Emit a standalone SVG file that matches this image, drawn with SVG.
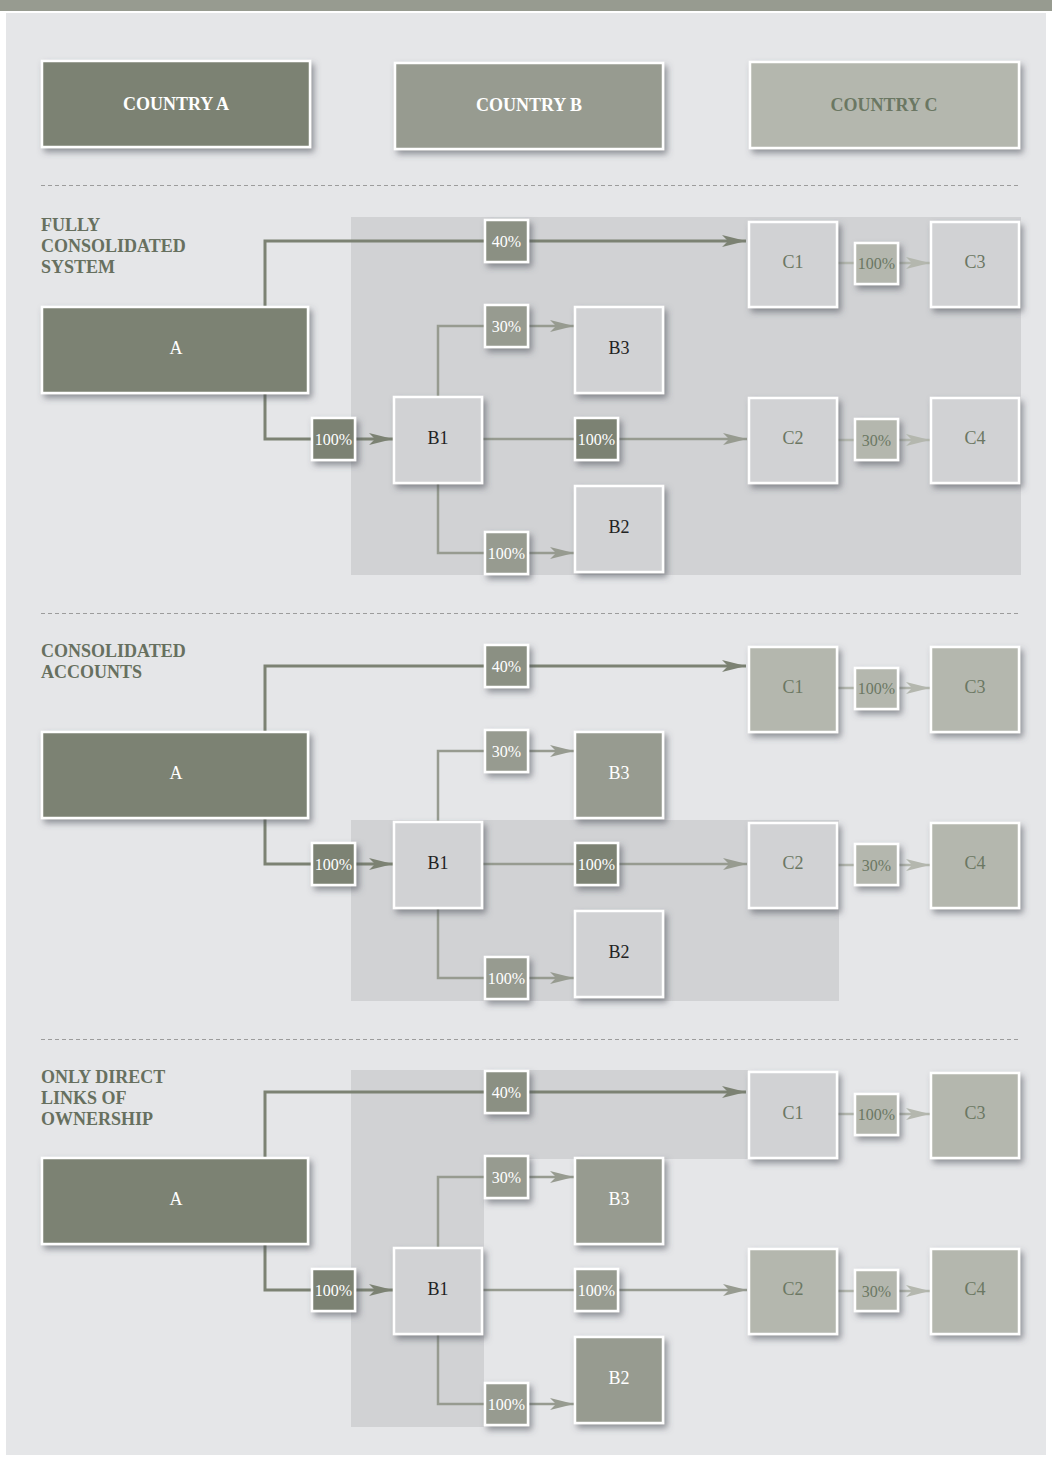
<svg xmlns="http://www.w3.org/2000/svg" width="1052" height="1461" viewBox="0 0 1052 1461">
  <style>
    .box { stroke: #ffffff; stroke-width: 2.5; filter: url(#sh); }
    .dk { fill: #7c8273; }
    .md { fill: #979b90; }
    .p4 { fill: #8b9083; }
    .lt { fill: #b4b7ae; }
    .zn { fill: #d1d2d4; }
    .zone { fill: #d1d2d4; }
    text { font-family: "Liberation Serif", "Times New Roman", serif; text-anchor: middle; }
    .lbl { font-size: 18px; }
    .pct { font-size: 16px; }
    .w { fill: #ffffff; }
    .k { fill: #222222; }
    .g { fill: #6b7763; }
    .hd { font-size: 18px; font-weight: bold; }
    .title { font-size: 18px; font-weight: bold; fill: #67705f; text-anchor: start; }
    .la { stroke: #7c8273; stroke-width: 3; fill: none; }
    .lb { stroke: #979b90; stroke-width: 2.5; fill: none; }
    .lc { stroke: #b4b7ae; stroke-width: 2.5; fill: none; }
    .dash { stroke: #9c9c9c; stroke-width: 1; stroke-dasharray: 4 3; }
  </style>
  <defs>
    <filter id="sh" x="-20%" y="-20%" width="150%" height="150%">
      <feDropShadow dx="3" dy="4" stdDeviation="3" flood-color="#4a4d55" flood-opacity="0.55"/>
    </filter>
    <marker id="arrA" markerUnits="userSpaceOnUse" markerWidth="24" markerHeight="12" refX="24" refY="6" orient="auto">
      <path d="M0,0 L24,6 L0,12 L6,6 Z" fill="#7c8273"/>
    </marker>
    <marker id="arrB" markerUnits="userSpaceOnUse" markerWidth="24" markerHeight="12" refX="24" refY="6" orient="auto">
      <path d="M0,0 L24,6 L0,12 L6,6 Z" fill="#979b90"/>
    </marker>
    <marker id="arrC" markerUnits="userSpaceOnUse" markerWidth="24" markerHeight="12" refX="24" refY="6" orient="auto">
      <path d="M0,0 L24,6 L0,12 L6,6 Z" fill="#b4b7ae"/>
    </marker>
  </defs>

  <!-- page -->
  <rect x="0" y="0" width="1052" height="1461" fill="#ffffff"/>
  <rect x="0" y="0" width="1052" height="11" fill="#979b90"/>
  <rect x="6" y="13" width="1040" height="1442" fill="#e5e6e8"/>

  <!-- column headers -->
  <g id="country-a">
    <rect class="box dk" x="42" y="61" width="268" height="86"/>
    <text class="hd w" x="176" y="110">COUNTRY A</text>
  </g>
  <g id="country-b">
    <rect class="box md" x="395" y="63" width="268" height="86"/>
    <text class="hd w" x="529" y="111">COUNTRY B</text>
  </g>
  <g id="country-c">
    <rect class="box lt" x="750" y="62" width="269" height="86"/>
    <text class="hd g" x="884" y="111">COUNTRY C</text>
  </g>

  <!-- separators -->
  <line class="dash" x1="41" y1="185.5" x2="1020" y2="185.5"/>
  <line class="dash" x1="41" y1="613.5" x2="1020" y2="613.5"/>
  <line class="dash" x1="41" y1="1039.5" x2="1020" y2="1039.5"/>

  <!-- ============ FULLY CONSOLIDATED SYSTEM ============ -->
  <g id="s1">
    <rect class="zone" x="351" y="217" width="670" height="358"/>
    <text class="title" x="41" y="231">FULLY</text>
    <text class="title" x="41" y="252">CONSOLIDATED</text>
    <text class="title" x="41" y="273">SYSTEM</text>

    <g id="s1-connectors">
      <path class="la" d="M265,306 V241 H746" marker-end="url(#arrA)"/>
      <path class="la" d="M265,394 V439 H393" marker-end="url(#arrA)"/>
      <path class="lb" d="M438,396 V326 H574" marker-end="url(#arrB)"/>
      <path class="lb" d="M483,439 H747" marker-end="url(#arrB)"/>
      <path class="lb" d="M438,484 V553 H574" marker-end="url(#arrB)"/>
      <path class="lc" d="M838,263 H930" marker-end="url(#arrC)"/>
      <path class="lc" d="M838,440 H930" marker-end="url(#arrC)"/>
    </g>

    <g id="s1-A"><rect class="box dk" x="42" y="307" width="266" height="86"/><text class="lbl w" x="176" y="354">A</text></g>
    <g id="s1-B1"><rect class="box zn" x="394" y="397" width="88" height="86"/><text class="lbl k" x="438" y="444">B1</text></g>
    <g id="s1-B3"><rect class="box zn" x="575" y="307" width="88" height="86"/><text class="lbl k" x="619" y="354">B3</text></g>
    <g id="s1-B2"><rect class="box zn" x="575" y="486" width="88" height="86"/><text class="lbl k" x="619" y="533">B2</text></g>
    <g id="s1-C1"><rect class="box zn" x="749" y="222" width="88" height="85"/><text class="lbl g" x="793" y="268">C1</text></g>
    <g id="s1-C3"><rect class="box zn" x="931" y="222" width="88" height="85"/><text class="lbl g" x="975" y="268">C3</text></g>
    <g id="s1-C2"><rect class="box zn" x="749" y="398" width="88" height="85"/><text class="lbl g" x="793" y="444">C2</text></g>
    <g id="s1-C4"><rect class="box zn" x="931" y="398" width="88" height="85"/><text class="lbl g" x="975" y="444">C4</text></g>

    <g id="s1-p40"><rect class="box p4" x="485" y="220" width="43" height="42"/><text class="pct w" x="506.5" y="247">40%</text></g>
    <g id="s1-p30"><rect class="box md" x="485" y="305" width="43" height="42"/><text class="pct w" x="506.5" y="332">30%</text></g>
    <g id="s1-p100ab"><rect class="box dk" x="312" y="418" width="43" height="42"/><text class="pct w" x="333.5" y="445">100%</text></g>
    <g id="s1-p100bc"><rect class="box dk" x="575" y="418" width="43" height="42"/><text class="pct w" x="596.5" y="445">100%</text></g>
    <g id="s1-p100bb"><rect class="box md" x="485" y="532" width="43" height="42"/><text class="pct w" x="506.5" y="559">100%</text></g>
    <g id="s1-p100cc"><rect class="box lt" x="855" y="243" width="43" height="41"/><text class="pct g" x="876.5" y="269">100%</text></g>
    <g id="s1-p30cc"><rect class="box lt" x="855" y="419" width="43" height="41"/><text class="pct g" x="876.5" y="446">30%</text></g>
  </g>

  <!-- ============ CONSOLIDATED ACCOUNTS ============ -->
  <g id="s2" transform="translate(0,425)">
    <rect class="zone" x="351" y="395" width="488" height="181"/>
    <text class="title" x="41" y="232">CONSOLIDATED</text>
    <text class="title" x="41" y="253">ACCOUNTS</text>

    <g id="s2-connectors">
      <path class="la" d="M265,306 V241 H746" marker-end="url(#arrA)"/>
      <path class="la" d="M265,394 V439 H393" marker-end="url(#arrA)"/>
      <path class="lb" d="M438,396 V326 H574" marker-end="url(#arrB)"/>
      <path class="lb" d="M483,439 H747" marker-end="url(#arrB)"/>
      <path class="lb" d="M438,484 V553 H574" marker-end="url(#arrB)"/>
      <path class="lc" d="M838,263 H930" marker-end="url(#arrC)"/>
      <path class="lc" d="M838,440 H930" marker-end="url(#arrC)"/>
    </g>

    <g id="s2-A"><rect class="box dk" x="42" y="307" width="266" height="86"/><text class="lbl w" x="176" y="354">A</text></g>
    <g id="s2-B1"><rect class="box zn" x="394" y="397" width="88" height="86"/><text class="lbl k" x="438" y="444">B1</text></g>
    <g id="s2-B3"><rect class="box md" x="575" y="307" width="88" height="86"/><text class="lbl w" x="619" y="354">B3</text></g>
    <g id="s2-B2"><rect class="box zn" x="575" y="486" width="88" height="86"/><text class="lbl k" x="619" y="533">B2</text></g>
    <g id="s2-C1"><rect class="box lt" x="749" y="222" width="88" height="85"/><text class="lbl g" x="793" y="268">C1</text></g>
    <g id="s2-C3"><rect class="box lt" x="931" y="222" width="88" height="85"/><text class="lbl g" x="975" y="268">C3</text></g>
    <g id="s2-C2"><rect class="box zn" x="749" y="398" width="88" height="85"/><text class="lbl g" x="793" y="444">C2</text></g>
    <g id="s2-C4"><rect class="box lt" x="931" y="398" width="88" height="85"/><text class="lbl g" x="975" y="444">C4</text></g>

    <g id="s2-p40"><rect class="box p4" x="485" y="220" width="43" height="42"/><text class="pct w" x="506.5" y="247">40%</text></g>
    <g id="s2-p30"><rect class="box md" x="485" y="305" width="43" height="42"/><text class="pct w" x="506.5" y="332">30%</text></g>
    <g id="s2-p100ab"><rect class="box dk" x="312" y="418" width="43" height="42"/><text class="pct w" x="333.5" y="445">100%</text></g>
    <g id="s2-p100bc"><rect class="box dk" x="575" y="418" width="43" height="42"/><text class="pct w" x="596.5" y="445">100%</text></g>
    <g id="s2-p100bb"><rect class="box md" x="485" y="532" width="43" height="42"/><text class="pct w" x="506.5" y="559">100%</text></g>
    <g id="s2-p100cc"><rect class="box lt" x="855" y="243" width="43" height="41"/><text class="pct g" x="876.5" y="269">100%</text></g>
    <g id="s2-p30cc"><rect class="box lt" x="855" y="419" width="43" height="41"/><text class="pct g" x="876.5" y="446">30%</text></g>
  </g>

  <!-- ============ ONLY DIRECT LINKS OF OWNERSHIP ============ -->
  <g id="s3" transform="translate(0,851)">
    <path class="zone" d="M351,219 H748 V308 H484 V576 H351 Z"/>
    <text class="title" x="41" y="232">ONLY DIRECT</text>
    <text class="title" x="41" y="253">LINKS OF</text>
    <text class="title" x="41" y="274">OWNERSHIP</text>

    <g id="s3-connectors">
      <path class="la" d="M265,306 V241 H746" marker-end="url(#arrA)"/>
      <path class="la" d="M265,394 V439 H393" marker-end="url(#arrA)"/>
      <path class="lb" d="M438,396 V326 H574" marker-end="url(#arrB)"/>
      <path class="lb" d="M483,439 H747" marker-end="url(#arrB)"/>
      <path class="lb" d="M438,484 V553 H574" marker-end="url(#arrB)"/>
      <path class="lc" d="M838,263 H930" marker-end="url(#arrC)"/>
      <path class="lc" d="M838,440 H930" marker-end="url(#arrC)"/>
    </g>

    <g id="s3-A"><rect class="box dk" x="42" y="307" width="266" height="86"/><text class="lbl w" x="176" y="354">A</text></g>
    <g id="s3-B1"><rect class="box zn" x="394" y="397" width="88" height="86"/><text class="lbl k" x="438" y="444">B1</text></g>
    <g id="s3-B3"><rect class="box md" x="575" y="307" width="88" height="86"/><text class="lbl w" x="619" y="354">B3</text></g>
    <g id="s3-B2"><rect class="box md" x="575" y="486" width="88" height="86"/><text class="lbl w" x="619" y="533">B2</text></g>
    <g id="s3-C1"><rect class="box zn" x="749" y="221" width="88" height="86"/><text class="lbl g" x="793" y="268">C1</text></g>
    <g id="s3-C3"><rect class="box lt" x="931" y="222" width="88" height="85"/><text class="lbl g" x="975" y="268">C3</text></g>
    <g id="s3-C2"><rect class="box lt" x="749" y="398" width="88" height="85"/><text class="lbl g" x="793" y="444">C2</text></g>
    <g id="s3-C4"><rect class="box lt" x="931" y="398" width="88" height="85"/><text class="lbl g" x="975" y="444">C4</text></g>

    <g id="s3-p40"><rect class="box p4" x="485" y="220" width="43" height="42"/><text class="pct w" x="506.5" y="247">40%</text></g>
    <g id="s3-p30"><rect class="box md" x="485" y="305" width="43" height="42"/><text class="pct w" x="506.5" y="332">30%</text></g>
    <g id="s3-p100ab"><rect class="box dk" x="312" y="418" width="43" height="42"/><text class="pct w" x="333.5" y="445">100%</text></g>
    <g id="s3-p100bc"><rect class="box md" x="575" y="418" width="43" height="42"/><text class="pct w" x="596.5" y="445">100%</text></g>
    <g id="s3-p100bb"><rect class="box md" x="485" y="532" width="43" height="42"/><text class="pct w" x="506.5" y="559">100%</text></g>
    <g id="s3-p100cc"><rect class="box lt" x="855" y="243" width="43" height="41"/><text class="pct g" x="876.5" y="269">100%</text></g>
    <g id="s3-p30cc"><rect class="box lt" x="855" y="419" width="43" height="41"/><text class="pct g" x="876.5" y="446">30%</text></g>
  </g>
</svg>
